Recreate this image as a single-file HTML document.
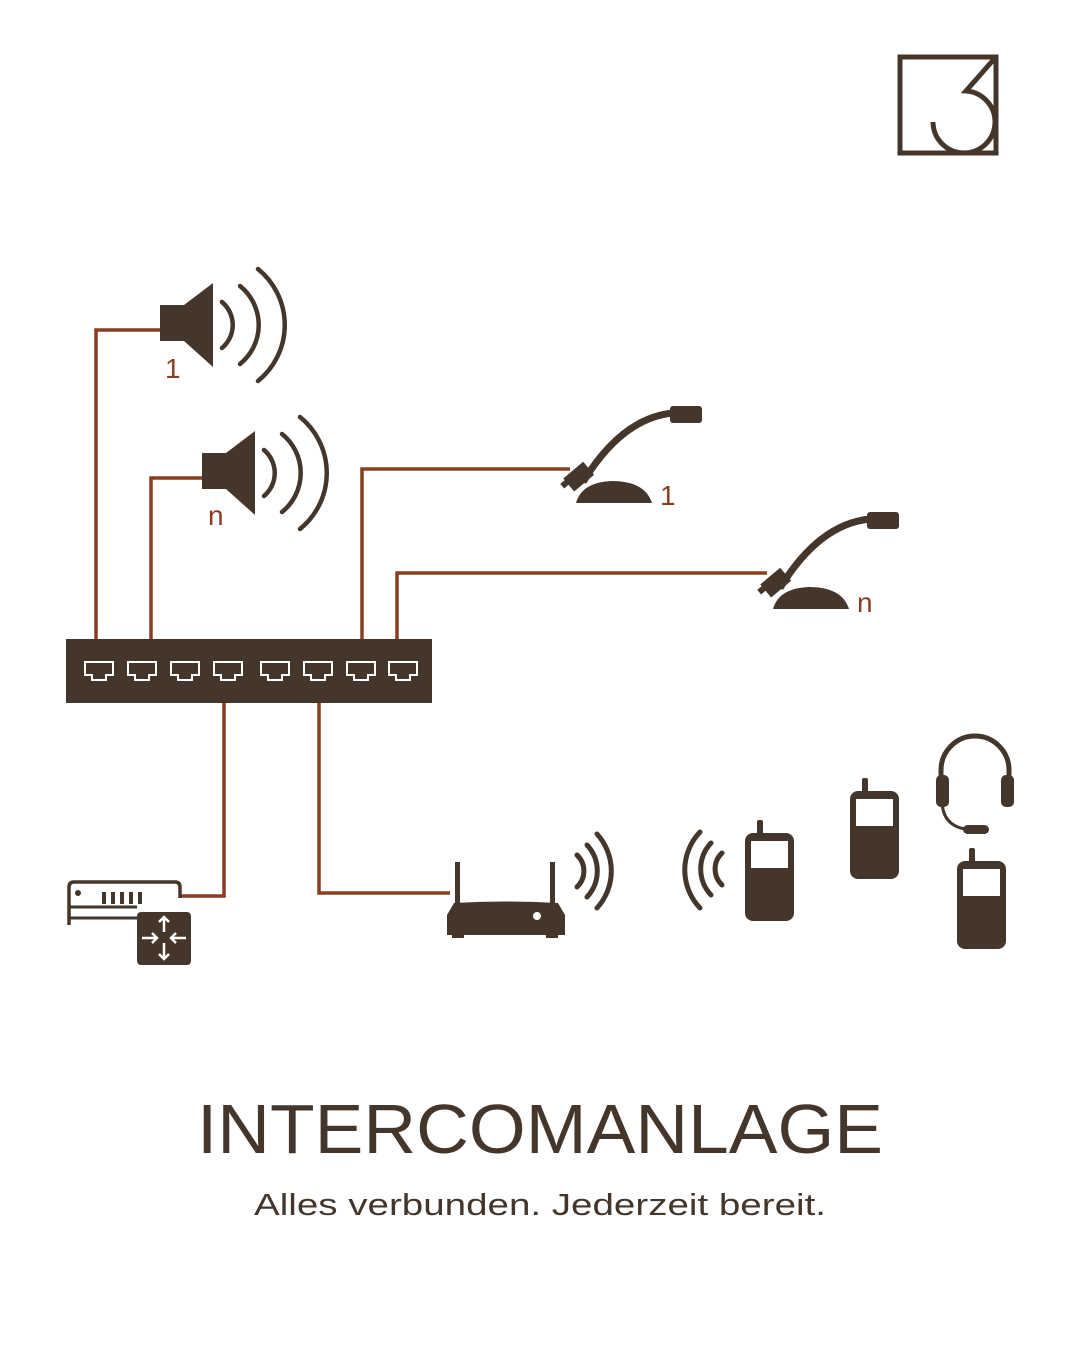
<!DOCTYPE html>
<html><head><meta charset="utf-8"><style>
html,body{margin:0;padding:0;background:#fff;width:1080px;height:1350px;overflow:hidden}
svg{display:block}
</style></head><body>
<svg width="1080" height="1350" viewBox="0 0 1080 1350" xmlns="http://www.w3.org/2000/svg">
<g fill="none" stroke="#8b3d22" stroke-width="3.5">
<path d="M96 640V330H162"/>
<path d="M151 640V478H204"/>
<path d="M362 640V469H570"/>
<path d="M397 640V573H767"/>
<path d="M224 702V896H180"/>
<path d="M319 702V893H450"/>
</g>
<!-- logo -->
<g fill="none" stroke="#45362b" stroke-width="5">
<rect x="900" y="57" width="96" height="96"/>
<path d="M995 58L966 91A31 31 0 1 1 933 122"/>
</g>
<!-- speakers -->
<g fill="#45362b">
<rect x="160" y="305" width="26" height="36"/>
<path d="M184 305L213 283V367L184 341Z"/>
<rect x="202" y="453" width="26" height="36"/>
<path d="M226 453L255 431V515L226 489Z"/>
</g>
<g fill="none" stroke="#45362b" stroke-width="4.5" stroke-linecap="round">
<path d="M222 302A30 30 0 0 1 222 348"/>
<path d="M240 286A50 50 0 0 1 240 364"/>
<path d="M258 269A72 72 0 0 1 258 381"/>
<path d="M264 450A30 30 0 0 1 264 496"/>
<path d="M282 434A50 50 0 0 1 282 512"/>
<path d="M300 417A72 72 0 0 1 300 529"/>
</g>
<g font-family="Liberation Sans, sans-serif" font-size="28" fill="#8b3d22">
<text x="165" y="378">1</text>
<text x="208" y="525">n</text>
<text x="660" y="505">1</text>
<text x="857" y="612">n</text>
</g>
<!-- mics -->
<g id="mic">
<path d="M576 503Q582 482 612 481Q645 481 652 503Z" fill="#45362b"/>
<path d="M583 482Q622 418 673 413" fill="none" stroke="#45362b" stroke-width="7"/>
<rect x="670" y="406" width="32" height="17" rx="3" fill="#45362b"/>
<rect x="566" y="468" width="26" height="17" fill="#45362b" transform="rotate(-40 579 477)"/>
<rect x="561" y="480" width="10" height="6" fill="#45362b" transform="rotate(-40 566 483)"/>
</g>
<use href="#mic" transform="translate(197 106)"/>
<!-- switch -->
<rect x="66" y="639" width="366" height="64" fill="#45362b"/>
<g fill="none" stroke="#fff" stroke-width="2">
<path id="port" d="M85 662H113V675H106V680H92V675H85Z"/>
<use href="#port" x="43"/><use href="#port" x="86"/><use href="#port" x="129"/>
<use href="#port" x="176"/><use href="#port" x="219"/><use href="#port" x="262"/><use href="#port" x="304"/>
</g>
<!-- router device -->
<path d="M69 925V887Q69 882 74 882H175Q180 882 180 887V898" fill="none" stroke="#45362b" stroke-width="3.5"/>
<path d="M69 907H137M69 918H137" stroke="#45362b" stroke-width="3"/>
<circle cx="78" cy="893" r="3" fill="#45362b"/>
<g fill="#45362b"><rect x="102" y="892" width="4" height="12"/><rect x="111" y="892" width="4" height="12"/><rect x="120" y="892" width="4" height="12"/><rect x="129" y="892" width="4" height="12"/><rect x="138" y="892" width="4" height="12"/></g>
<rect x="137" y="912" width="54" height="53" rx="4" fill="#45362b"/>
<g stroke="#fff" stroke-width="2.5" fill="none">
<path d="M164 917V932M159 922L164 917L169 922"/>
<path d="M164 943V959M159 954L164 959L169 954"/>
<path d="M142 938H157M152 933L157 938L152 943"/>
<path d="M186 938H171M176 933L171 938L176 943"/>
</g>
<!-- wifi router -->
<g fill="#45362b">
<rect x="455" y="862" width="5" height="45"/>
<rect x="550" y="862" width="5" height="45"/>
<path d="M454 903Q505 900 558 903L565 915V935H558V938H546V935H464V938H452V935H447V915Z"/>
</g>
<circle cx="537" cy="916" r="4" fill="#fff"/>
<g fill="none" stroke="#45362b" stroke-width="5" stroke-linecap="round">
<path d="M577 855A22 22 0 0 1 577 887"/>
<path d="M587 845A38 38 0 0 1 587 897"/>
<path d="M597 834A55 55 0 0 1 597 908"/>
<path d="M722 853A22 22 0 0 0 722 885"/>
<path d="M711 843A38 38 0 0 0 711 895"/>
<path d="M700 832A55 55 0 0 0 700 908"/>
</g>
<!-- phones -->
<g id="ph">
<rect x="757" y="820" width="6" height="18" rx="2" fill="#45362b"/>
<rect x="745" y="833" width="49" height="88" rx="8" fill="#45362b"/>
<rect x="751" y="841" width="37" height="27" fill="#fff"/>
</g>
<use href="#ph" transform="translate(105 -42)"/>
<use href="#ph" transform="translate(212 28)"/>
<!-- headset -->
<path d="M941 790V770A34 34 0 0 1 1009 770V790" fill="none" stroke="#45362b" stroke-width="5"/>
<rect x="936" y="775" width="13" height="32" rx="5" fill="#45362b"/>
<rect x="1001" y="775" width="13" height="32" rx="5" fill="#45362b"/>
<path d="M942 800Q942 825 965 829" fill="none" stroke="#45362b" stroke-width="3"/>
<rect x="963" y="825" width="26" height="9" rx="4.5" fill="#45362b"/>
<!-- text -->
<text x="540" y="1153" text-anchor="middle" font-family="Liberation Sans, sans-serif" font-size="70" fill="#45362b" textLength="686" lengthAdjust="spacingAndGlyphs">INTERCOMANLAGE</text>
<text x="540" y="1215" text-anchor="middle" font-family="Liberation Sans, sans-serif" font-size="31" fill="#45362b" textLength="572" lengthAdjust="spacingAndGlyphs">Alles verbunden. Jederzeit bereit.</text>
</svg>
</body></html>
